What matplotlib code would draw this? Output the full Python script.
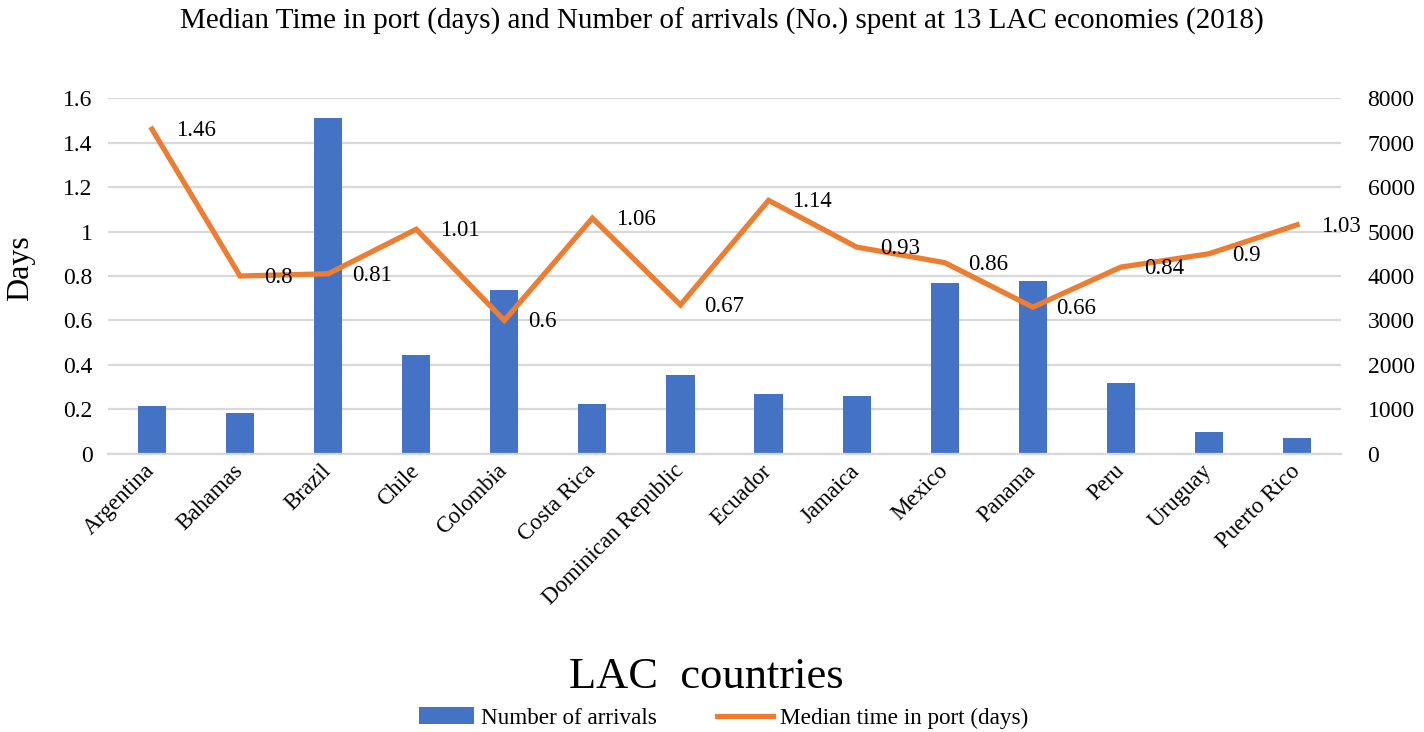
import matplotlib
matplotlib.use("Agg")
import matplotlib.pyplot as plt
from matplotlib.ticker import FuncFormatter, MultipleLocator

plt.rcParams["font.family"] = ["Liberation Serif", "DejaVu Serif"]

countries = ["Argentina", "Bahamas", "Brazil", "Chile", "Colombia", "Costa Rica",
             "Dominican Republic", "Ecuador", "Jamaica", "Mexico", "Panama", "Peru",
             "Uruguay", "Puerto Rico"]
arrivals = [1080, 930, 7540, 2220, 3685, 1130, 1775, 1340, 1305, 3835, 3885, 1595, 490, 360]
median_days = [1.46, 0.8, 0.81, 1.01, 0.6, 1.06, 0.67, 1.14, 0.93, 0.86, 0.66, 0.84, 0.9, 1.03]

blue = "#4472C4"
orange = "#ED7D31"
grid_col = "#D9D9D9"

fig = plt.figure(figsize=(14.24, 7.32), dpi=100)
ax = fig.add_axes([0.0758, 0.3798, 0.866, 0.4863])
ax2 = ax.twinx()

x = list(range(len(countries)))

# bars on the right axis, behind the line
ax2.bar(x, arrivals, width=0.32, color=blue, zorder=2, label="Number of arrivals")
ax2.set_ylim(0, 8000)
ax2.yaxis.set_major_locator(MultipleLocator(1000))
ax2.grid(axis="y", color=grid_col, linewidth=1.6, zorder=0)
ax2.set_axisbelow(True)

ln, = ax.plot(x, median_days, color=orange, linewidth=3.8, solid_joinstyle="miter",
              zorder=3, label="Median time in port (days)")
ax.set_ylim(0, 1.6)
ax.yaxis.set_major_locator(MultipleLocator(0.2))
ax.yaxis.set_major_formatter(FuncFormatter(lambda v, p: f"{v:g}"))
ax.set_xlim(-0.5, len(countries) - 0.5)

ax.set_zorder(ax2.get_zorder() + 1)
ax.patch.set_visible(False)

for xi, v in zip(x, median_days):
    ax.annotate(f"{v:g}", (xi, v), xytext=(17, -1), textcoords="offset points",
                ha="left", va="center", fontsize=16.5)

for a in (ax, ax2):
    for s in a.spines.values():
        s.set_visible(False)
    a.tick_params(length=0, labelsize=17)
ax2.spines["bottom"].set_visible(True)
ax2.spines["bottom"].set_color(grid_col)
ax2.spines["bottom"].set_linewidth(1.6)
ax.tick_params(axis="y", pad=11)
ax2.tick_params(axis="y", pad=19)

ax.set_xticks(x)
ax.set_xticklabels(countries, rotation=45, ha="right", va="center",
                   rotation_mode="anchor", fontsize=16.5)
ax.tick_params(axis="x", pad=10)

ax.set_ylabel("Days", fontsize=23, labelpad=20)
ax.yaxis.label.set_y(0.522)
ax.set_xlabel("LAC  countries", fontsize=32, labelpad=34)
ax.xaxis.label.set_x(0.485)
fig.suptitle("Median Time in port (days) and Number of arrivals (No.) spent at 13 LAC economies (2018)",
             fontsize=21, x=0.507, y=0.99)

handles = [ax2.containers[0], ln]
fig.legend(handles, [h.get_label() for h in handles], loc="lower center",
           bbox_to_anchor=(0.508, -0.024), ncol=2, frameon=False, fontsize=16.7,
           handlelength=2.4, columnspacing=2.6, handletextpad=0.3)

fig.savefig("out.png", dpi=100)
